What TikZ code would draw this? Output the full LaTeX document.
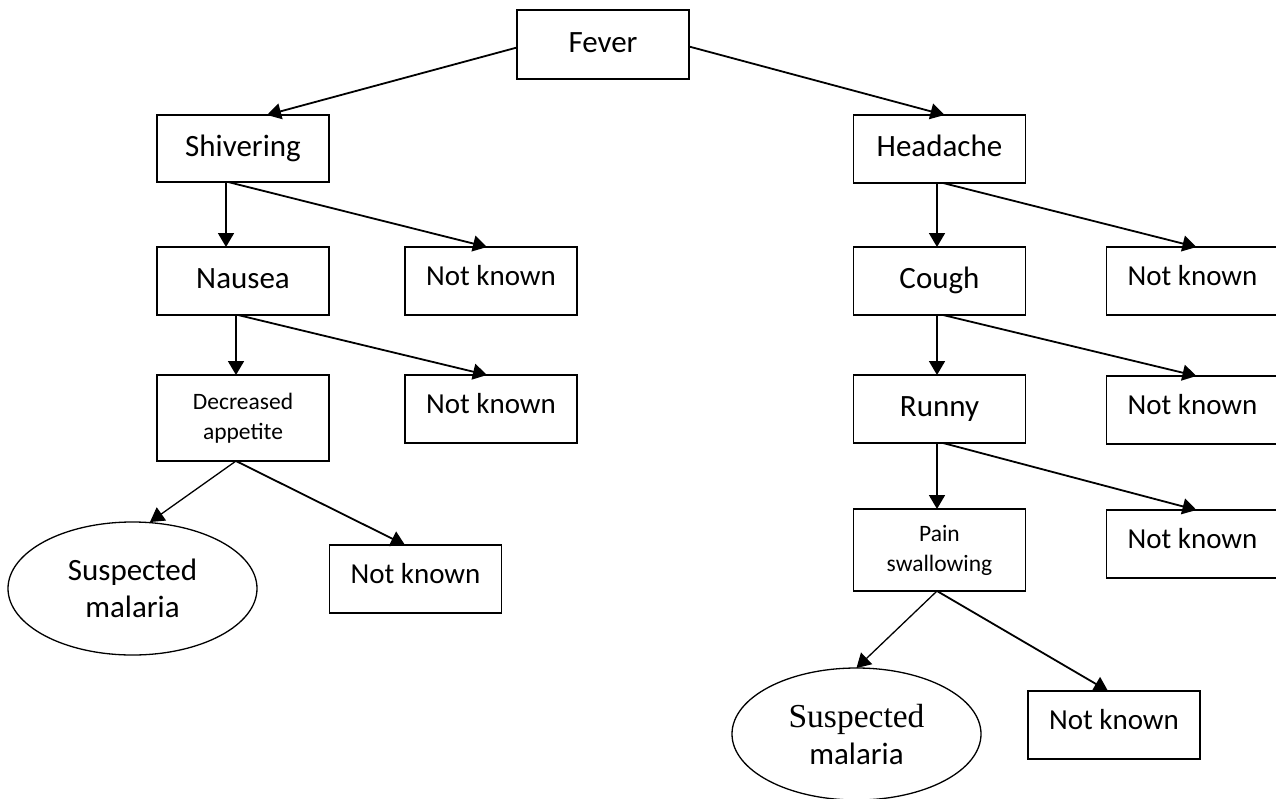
\documentclass[tikz,border=0pt]{standalone}
\usepackage{fontspec}
\setmainfont{Carlito}
\newfontfamily\serifpart{Liberation Serif}
\usetikzlibrary{shapes.geometric, arrows.meta, positioning}

\begin{document}
\begin{tikzpicture}[x=1pt, y=-1pt, node distance = 60pt and 76pt]
        \tikzstyle{basebox} = [rectangle, draw = black, line width = 1.7pt, minimum width = 172pt, inner sep = 0pt, outer sep = 0pt]
        \tikzstyle{box} = [basebox, minimum height = 68pt, font = \fontsize{31}{37}\selectfont, text height = 20pt, text depth = 5pt]
        \tikzstyle{nkbox} = [basebox, minimum height = 68pt, font = \fontsize{29}{35}\selectfont, text height = 18.7pt, text depth = 9pt]
        \tikzstyle{twoline} = [basebox, align = center, font = \fontsize{23.5}{30}\selectfont]
        \tikzstyle{result} = [ellipse, draw = black, line width = 1.3pt, minimum width = 249pt, minimum height = 133pt, inner sep = 0pt, outer sep = 0pt, align = center, font = \fontsize{31}{37}\selectfont]
        \tikzstyle{connect} = [-{Triangle[length = 14pt, width = 16pt]}, line width = 1.8pt]
        \useasboundingbox (0,0) rectangle (1276,798);
        \fill[white] (0,0) rectangle (1276,798);
        \clip (0,0) rectangle (1276,798);
        \node[box, minimum height = 69pt] (fever) at (603,44.5) {Fever};
        % left branch
        \node[box, minimum height = 67pt] (shiv) at (243,148.5) {Shivering};
        \node[box, below = 65pt of shiv] (naus) {Nausea};
        \node[nkbox, right = of naus] (nk1) {Not known};
        \node[twoline, minimum height = 86pt, below = of naus] (decr) {Decreased\\appetite};
        \node[nkbox, below = of nk1] (nk2) {Not known};
        \node[result] (sm1) at (132.5,588.5) {Suspected\\malaria};
        \node[nkbox] (nk3) at (415.5,579) {Not known};
        % right branch
        \node[box] (head) at (939.5,149) {Headache};
        \node[box, below = 64pt of head] (cough) {Cough};
        \node[nkbox, right = 81pt of cough] (nkr1) {Not known};
        \node[box, below = of cough] (runny) {Runny};
        \node[nkbox, below = 61pt of nkr1] (nkr2) {Not known};
        \node[twoline, minimum height = 82pt, below = 66pt of runny] (pain) {Pain\\swallowing};
        \node[nkbox, below = 66pt of nkr2] (nkr3) {Not known};
        \node[result, minimum height = 132pt] (sm2) at (856.5,734) {{\serifpart\fontsize{33.5}{37}\selectfont Suspected}\\malaria};
        \node[nkbox] (nkb) at (1114,725) {Not known};
        \path ([yshift=-3pt]fever.west) edge [connect] ([xshift=24pt]shiv.north)
              ([yshift=-2pt]fever.east) edge [connect] ([xshift=5pt]head.north)
              ([xshift=-17pt]shiv.south) edge [connect] ([xshift=-17pt]naus.north)
              ([xshift=-15pt]shiv.south) edge [connect] ([xshift=-4pt]nk1.north)
              ([xshift=-7pt]naus.south) edge [connect] ([xshift=-7pt]decr.north)
              ([xshift=-5pt]naus.south) edge [connect] ([xshift=-4pt]nk2.north)
              ([xshift=-7pt]decr.south) edge [connect, line width = 1.3pt] ([xshift=17.5pt]sm1.north)
              ([xshift=-7pt]decr.south) edge [connect] ([xshift=-10.5pt]nk3.north)
              ([xshift=-2.5pt]head.south) edge [connect] ([xshift=-2.5pt]cough.north)
              ([xshift=3.5pt]head.south) edge [connect] ([xshift=4pt]nkr1.north)
              ([xshift=-2.5pt]cough.south) edge [connect] ([xshift=-2.5pt]runny.north)
              ([xshift=3.5pt]cough.south) edge [connect] ([xshift=4pt]nkr2.north)
              ([xshift=-2.5pt]runny.south) edge [connect] ([xshift=-2.5pt]pain.north)
              ([xshift=3.5pt]runny.south) edge [connect] ([xshift=4pt]nkr3.north)
              ([xshift=-2.5pt]pain.south) edge [connect, line width = 1.3pt] (sm2.north)
              ([xshift=-2.5pt]pain.south) edge [connect] ([xshift=-6pt]nkb.north);
      \end{tikzpicture}
\end{document}
